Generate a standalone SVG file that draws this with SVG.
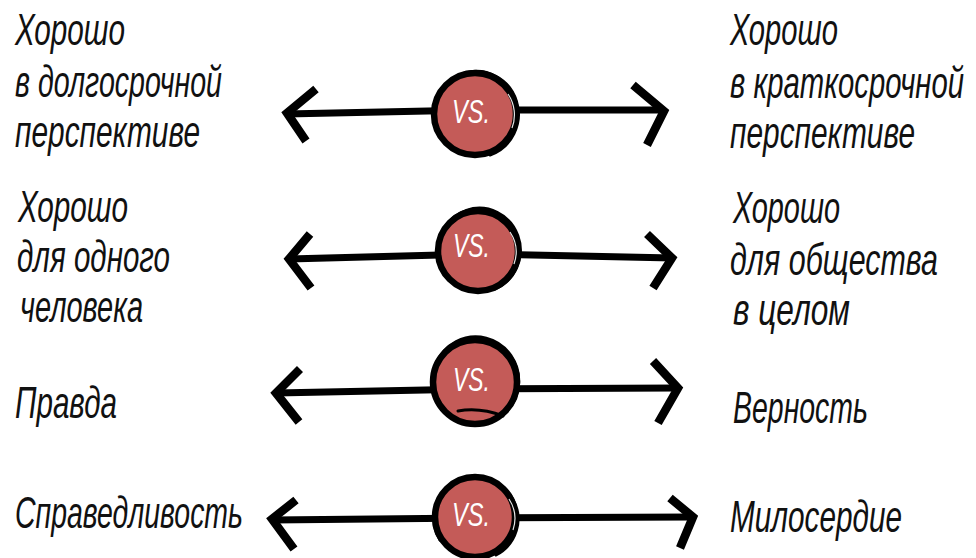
<svg xmlns="http://www.w3.org/2000/svg" width="976" height="558" viewBox="0 0 976 558">
<style>
.lbl{font-family:"Liberation Sans","DejaVu Sans",sans-serif;font-size:44px;font-style:italic;fill:#111;}
.ln{fill:none;stroke:#000;stroke-width:7;stroke-linecap:butt;stroke-linejoin:round;}
.hd{fill:none;stroke:#000;stroke-width:8.5;stroke-linecap:butt;stroke-linejoin:miter;}
.vc{fill:#C45B58;stroke:#000;stroke-width:6.5;}
.sk{fill:none;stroke:#000;stroke-width:3;stroke-linecap:round;}
.hl{fill:none;stroke:#fff;stroke-width:1.2;opacity:0.9;}
.vs{font-family:"Liberation Sans","DejaVu Sans",sans-serif;font-size:34px;font-style:italic;fill:#fff;}
</style>
<rect width="976" height="558" fill="#fff"/>
<g id="connectors">
<path class="ln" d="M286,114 L475,110 L664,110"/>
<path class="hd" d="M316,89 L287,113 L306,141"/>
<path class="hd" d="M633,85 L664,111 L647,145"/>
<path class="ln" d="M289,259 L478,254 L673,258"/>
<path class="hd" d="M310,234 L289,259 L311,288"/>
<path class="hd" d="M647,234 L672,258 L653,288"/>
<path class="ln" d="M276,393 L475,389 L678,388"/>
<path class="hd" d="M300,369 L276,393 L299,422"/>
<path class="hd" d="M653,361 L678,388 L658,423"/>
<path class="ln" d="M272,520 L475,518 L693,517"/>
<path class="hd" d="M296,500 L272,519 L294,549"/>
<path class="hd" d="M670,498 L693,517 L680,548"/>
</g>
<g id="vs1">
<circle class="vc" cx="475" cy="114" r="41"/>
<path class="sk" d="M436,126 A42,43 0 1 1 490,155"/>
<path class="hl" d="M508,94 A37,37 0 0 1 512,128"/>
<text class="vs" x="452" y="123" textLength="38" lengthAdjust="spacingAndGlyphs">VS.</text>
</g>
<g id="vs2">
<circle class="vc" cx="478" cy="251" r="40"/>
<path class="sk" d="M440,262 A41,42 0 1 1 495,289"/>
<path class="hl" d="M510,232 A36,36 0 0 1 514,264"/>
<text class="vs" x="453" y="257" textLength="37" lengthAdjust="spacingAndGlyphs">VS.</text>
</g>
<g id="vs3">
<circle class="vc" cx="475" cy="382" r="42"/>
<path class="sk" d="M458,411 Q480,407 503,416"/>
<path class="sk" d="M435,395 A43,44 0 1 1 505,413"/>
<text class="vs" x="453" y="391" textLength="37" lengthAdjust="spacingAndGlyphs">VS.</text>
</g>
<g id="vs4">
<circle class="vc" cx="475" cy="517" r="40"/>
<path class="sk" d="M440,540 A42,41 0 1 1 496,555"/>
<path class="hl" d="M509,499 A36,36 0 0 1 513,530"/>
<text class="vs" x="452" y="526" textLength="38" lengthAdjust="spacingAndGlyphs">VS.</text>
</g>
<g id="left1">
<text class="lbl" x="15" y="45" textLength="110" lengthAdjust="spacingAndGlyphs">Хорошо</text>
<text class="lbl" x="15" y="97" textLength="207" lengthAdjust="spacingAndGlyphs">в долгосрочной</text>
<text class="lbl" x="15" y="147" textLength="185" lengthAdjust="spacingAndGlyphs">перспективе</text>
</g>
<g id="right1">
<text class="lbl" x="730" y="45" textLength="108" lengthAdjust="spacingAndGlyphs">Хорошо</text>
<text class="lbl" x="730" y="98" textLength="234" lengthAdjust="spacingAndGlyphs">в краткосрочной</text>
<text class="lbl" x="730" y="148" textLength="185" lengthAdjust="spacingAndGlyphs">перспективе</text>
</g>
<g id="left2">
<text class="lbl" x="18" y="222" textLength="110" lengthAdjust="spacingAndGlyphs">Хорошо</text>
<text class="lbl" x="17" y="272" textLength="153" lengthAdjust="spacingAndGlyphs">для одного</text>
<text class="lbl" x="20" y="322" textLength="123" lengthAdjust="spacingAndGlyphs">человека</text>
</g>
<g id="right2">
<text class="lbl" x="733" y="223" textLength="107" lengthAdjust="spacingAndGlyphs">Хорошо</text>
<text class="lbl" x="730" y="275" textLength="208" lengthAdjust="spacingAndGlyphs">для общества</text>
<text class="lbl" x="733" y="325" textLength="117" lengthAdjust="spacingAndGlyphs">в целом</text>
</g>
<g id="left3">
<text class="lbl" x="15" y="418" textLength="102" lengthAdjust="spacingAndGlyphs">Правда</text>
</g>
<g id="right3">
<text class="lbl" x="733" y="423" textLength="135" lengthAdjust="spacingAndGlyphs">Верность</text>
</g>
<g id="left4">
<text class="lbl" x="15" y="528" textLength="228" lengthAdjust="spacingAndGlyphs">Справедливость</text>
</g>
<g id="right4">
<text class="lbl" x="730" y="532" textLength="172" lengthAdjust="spacingAndGlyphs">Милосердие</text>
</g>
</svg>
